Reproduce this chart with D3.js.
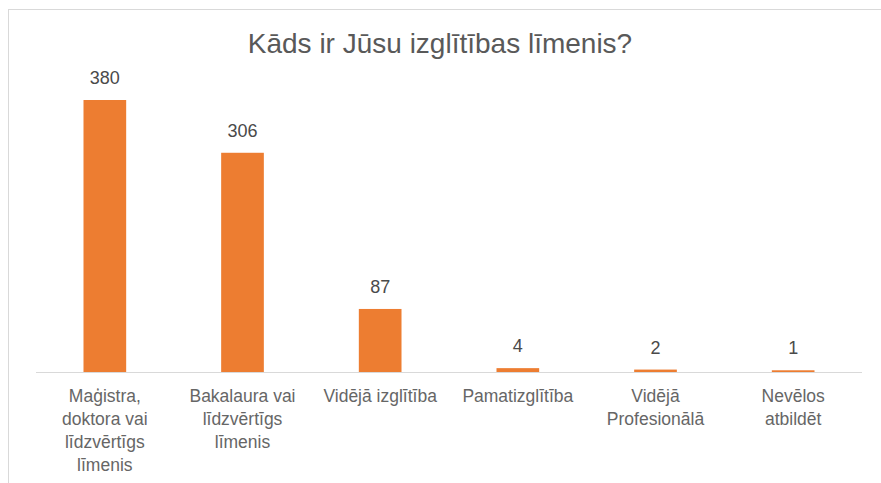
<!DOCTYPE html>
<meta charset="utf-8">
<head>
  <style>
    html, body { margin: 0; padding: 0; background: #fff; }
    svg { display: block; }
  </style>
</head>
<script src="https://cdn.jsdelivr.net/npm/d3@7"></script>
<body>
<script>
  // data
  var categories = ["mag", "bak", "vid", "pam", "prof", "nev"];
  var tickLabels = [
    ["Maģistra,", "doktora vai", "līdzvērtīgs", "līmenis"],
    ["Bakalaura vai", "līdzvērtīgs", "līmenis"],
    ["Vidējā izglītība"],
    ["Pamatizglītība"],
    ["Vidējā", "Profesionālā"],
    ["Nevēlos", "atbildēt"]
  ];
  var values = [380, 306, 87, 4, 2, 1];
  var title = "Kāds ir Jūsu izglītības līmenis?";

  var width = 881, height = 483;
  var font = "Liberation Sans, Arial, sans-serif";
  var svg = d3.select("body").append("svg")
    .attr("width", width)
    .attr("height", height);

  // frame
  svg.append("rect")
    .attr("x", 8.5).attr("y", 9.5)
    .attr("width", width).attr("height", height)
    .attr("fill", "none")
    .attr("stroke", "#d9d9d9");

  svg.append("text")
    .attr("x", 440).attr("y", 53)
    .attr("text-anchor", "middle")
    .attr("font-family", font)
    .attr("font-size", 28)
    .attr("fill", "#595959")
    .text(title);

  var x = d3.scaleBand().domain(categories).range([36, 862]).paddingInner(0.69).paddingOuter(0.345);
  var y = d3.scaleLinear().domain([0, 380]).range([372, 101]);

  svg.selectAll("rect.bar").data(values).enter().append("rect")
    .attr("class", "bar")
    .attr("x", function(d, i) { return x(categories[i]); })
    .attr("width", x.bandwidth())
    .attr("y", function(d) { return y(d) - 1; })
    .attr("height", function(d) { return y(0) - y(d) + 1; })
    .attr("fill", "#ed7d31");

  svg.append("line")
    .attr("x1", 36).attr("x2", 862)
    .attr("y1", 372.5).attr("y2", 372.5)
    .attr("stroke", "#d9d9d9");

  svg.selectAll("text.val").data(values).enter().append("text")
    .attr("class", "val")
    .attr("x", function(d, i) { return x(categories[i]) + x.bandwidth() / 2; })
    .attr("y", function(d) { return y(d) - 17; })
    .attr("text-anchor", "middle")
    .attr("font-family", font)
    .attr("font-size", 18)
    .attr("fill", "#4a4a4a")
    .text(function(d) { return d; });

  categories.forEach(function(c, i) {
    var t = svg.append("text")
      .attr("text-anchor", "middle")
      .attr("font-family", font)
      .attr("font-size", 17.5)
      .attr("fill", "#666666");
    tickLabels[i].forEach(function(line, j) {
      t.append("tspan")
        .attr("x", x(c) + x.bandwidth() / 2)
        .attr("y", 402 + j * 23)
        .text(line);
    });
  });
</script>
</body>
